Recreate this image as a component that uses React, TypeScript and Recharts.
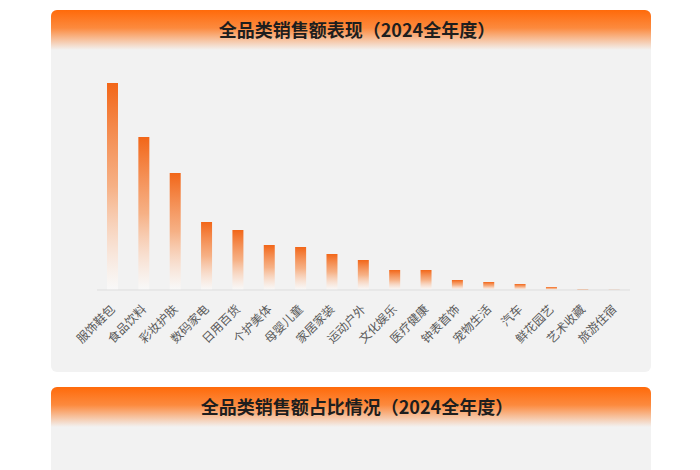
import { BarChart, Bar, XAxis, YAxis } from 'recharts';

const categories = [
  '服饰鞋包', '食品饮料', '彩妆护肤', '数码家电', '日用百货', '个护美体',
  '母婴儿童', '家居家装', '运动户外', '文化娱乐', '医疗健康', '钟表首饰',
  '宠物生活', '汽车', '鲜花园艺', '艺术收藏', '旅游住宿',
];
const sales = [1035, 765, 585, 340, 300, 225, 215, 180, 150, 100, 100, 50, 40, 30, 15, 5, 1];

const barTitle = '全品类销售额表现（2024全年度）';
const shareTitle = '全品类销售额占比情况（2024全年度）';

const chartData = categories.map((name, i) => ({ name, value: sales[i] }));

const FONT = '"Noto Sans CJK SC", "Noto Sans", sans-serif';

function Header({ title }: { title: string }) {
  return (
    <div
      style={{
        height: 40,
        paddingLeft: 12,
        borderRadius: '6px 6px 0 0',
        background: 'linear-gradient(to bottom, #ff6a0a 0%, #fc8a3e 45%, #f2f2f2 100%)',
        textAlign: 'center',
        fontWeight: 700,
        fontSize: 18,
        lineHeight: '38px',
        color: '#1e1e1e',
      }}
    >
      {title}
    </div>
  );
}

function AngledTick({ x, y, payload }: any) {
  const ax = x + 3;
  const ay = y + 12;
  return (
    <text
      x={ax}
      y={ay}
      transform={`rotate(-45, ${ax}, ${ay})`}
      textAnchor="end"
      fontSize={12}
      fill="#5a5a5a"
      fontFamily={FONT}
    >
      {payload.value}
    </text>
  );
}

export default function App() {
  return (
    <div
      style={{
        position: 'absolute',
        left: 0,
        top: 0,
        width: 700,
        height: 470,
        overflow: 'hidden',
        background: '#fff',
        fontFamily: FONT,
      }}
    >
      {/* sales by category */}
      <div
        style={{
          position: 'absolute',
          left: 51,
          top: 10,
          width: 600,
          height: 362,
          background: '#f2f2f2',
          borderRadius: 6,
        }}
      >
        <Header title={barTitle} />
        <BarChart
          width={600}
          height={322}
          data={chartData}
          margin={{ top: 33, right: 21, left: 46, bottom: 0 }}
        >
          <defs>
            <linearGradient id="barFade" x1="0" y1="0" x2="0" y2="1">
              <stop offset="0%" stopColor="#f26618" stopOpacity={1} />
              <stop offset="50%" stopColor="#f7a06a" stopOpacity={0.8} />
              <stop offset="100%" stopColor="#ffffff" stopOpacity={0.5} />
            </linearGradient>
          </defs>
          <XAxis
            dataKey="name"
            interval={0}
            height={82}
            tickLine={false}
            axisLine={{ stroke: '#dddddd' }}
            tick={<AngledTick />}
          />
          <YAxis hide domain={[0, 'dataMax']} />
          <Bar dataKey="value" fill="url(#barFade)" barSize={11} isAnimationActive={false} />
        </BarChart>
      </div>

      {/* share by category */}
      <div
        style={{
          position: 'absolute',
          left: 51,
          top: 387,
          width: 600,
          height: 120,
          background: '#f2f2f2',
          borderRadius: 6,
        }}
      >
        <Header title={shareTitle} />
      </div>
    </div>
  );
}
